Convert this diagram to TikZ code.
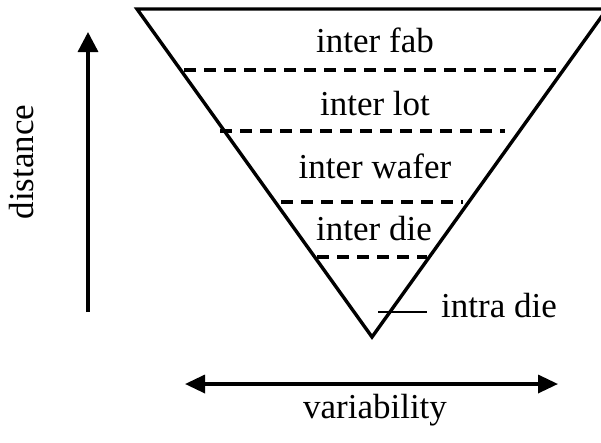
\documentclass[tikz,border=0pt]{standalone}
\usepackage{fontspec}
\setmainfont{Liberation Serif}
\usetikzlibrary{arrows.meta}
\begin{document}
\begin{tikzpicture}[x=1pt,y=-1pt,
  lbl/.style={font=\fontsize{35}{40}\selectfont, inner sep=0pt, anchor=base},
  edge/.style={line width=3.4pt, line join=miter},
  sepline/.style={line width=3.4pt, dash pattern=on 12pt off 8pt},
  leader/.style={line width=1.6pt},
  arr/.style={line width=3.4pt, -{Triangle[length=20pt,width=20pt]}},
  darr/.style={line width=3.4pt, {Triangle[length=20pt,width=18pt]}-{Triangle[length=20pt,width=18pt]}}]
\useasboundingbox (0,0) rectangle (601,442);
% triangle
\coordinate (tl) at (137,9);
\coordinate (tr) at (607,9);
\coordinate (ap) at (372,337);
\draw[edge] (tl) -- (tr) -- (ap) -- cycle;
% dashed separators
\coordinate (d1l) at (184,70);  \coordinate (d1r) at (558,70);
\coordinate (d2l) at (220,131); \coordinate (d2r) at (505,131);
\coordinate (d3l) at (281,202); \coordinate (d3r) at (463,202);
\coordinate (d4l) at (317,257); \coordinate (d4r) at (427,257);
\draw[sepline] (d1l) -- (d1r);
\draw[sepline] (d2l) -- (d2r);
\draw[sepline] (d3l) -- (d3r);
\draw[sepline] (d4l) -- (d4r);
% labels
\node[lbl] (fab) at (375,52) {inter fab};
\node[lbl] (lot) at (375,115) {inter lot};
\node[lbl] (wafer) at (375,178) {inter wafer};
\node[lbl] (die) at (374,240) {inter die};
\node[lbl, anchor=base west] (intra) at (441,317) {intra die};
\coordinate (ldl) at (378,312);
\coordinate (ldr) at (427,312);
\draw[leader] (ldl) -- (ldr);
% distance axis
\coordinate (vb) at (88,312);
\coordinate (vt) at (88,32);
\draw[arr] (vb) -- (vt);
\node[lbl, rotate=90] (dist) at (33,162) {distance};
% variability axis
\coordinate (hl) at (185,384);
\coordinate (hr) at (558,384);
\draw[darr] (hl) -- (hr);
\node[lbl] (var) at (375,418) {variability};
\end{tikzpicture}
\end{document}
